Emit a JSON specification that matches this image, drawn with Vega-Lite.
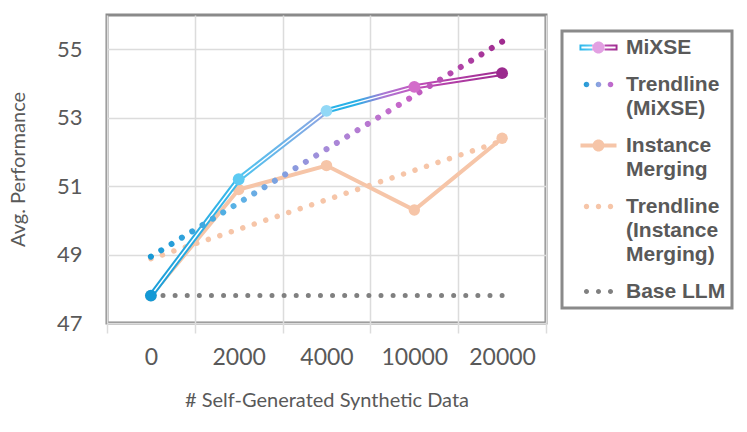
{
  "$schema": "https://vega.github.io/schema/vega-lite/v6.json",
  "width": 439,
  "height": 308,
  "autosize": "none",
  "padding": {"left": 107, "top": 15, "right": 201, "bottom": 109},
  "datasets": {
    "mixse": [
      {"n": "0", "score": 47.8},
      {"n": "2000", "score": 51.2},
      {"n": "4000", "score": 53.2},
      {"n": "10000", "score": 53.9},
      {"n": "20000", "score": 54.3}
    ],
    "merging": [
      {"n": "0", "score": 47.8},
      {"n": "2000", "score": 50.9},
      {"n": "4000", "score": 51.6},
      {"n": "10000", "score": 50.3},
      {"n": "20000", "score": 52.4}
    ],
    "trend_mixse": [
      {"n": "0", "score": 48.94},
      {"n": "20000", "score": 55.22}
    ],
    "trend_merging": [
      {"n": "0", "score": 48.88},
      {"n": "20000", "score": 52.32}
    ],
    "base": [
      {"n": "0", "score": 47.8},
      {"n": "20000", "score": 47.8}
    ]
  },
  "encoding": {
    "x": {
      "field": "n",
      "type": "nominal",
      "bandPosition": 0.5,
      "scale": {"type": "band", "domain": ["0", "2000", "4000", "10000", "20000"], "paddingInner": 0, "paddingOuter": 0},
      "axis": {
        "title": "# Self-Generated Synthetic Data",
        "tickBand": "extent",
        "grid": true,
        "gridColor": "#dcdcdc",
        "gridWidth": 1.5,
        "ticks": true,
        "tickColor": "#dcdcdc",
        "tickWidth": 1.5,
        "tickSize": 10,
        "domain": false,
        "labelAngle": 0,
        "labelFont": "Lato",
        "labelFontSize": 23,
        "labelColor": "#595959",
        "labelPadding": 13,
        "titleFont": "Lato",
        "titleFontSize": 20,
        "titleFontWeight": "normal",
        "titleColor": "#595959",
        "titlePadding": 21
      }
    },
    "y": {
      "field": "score",
      "type": "quantitative",
      "scale": {"domain": [47, 56], "nice": false, "zero": false},
      "axis": {
        "title": "Avg. Performance",
        "values": [47, 49, 51, 53, 55],
        "grid": true,
        "gridColor": "#dcdcdc",
        "gridWidth": 1.5,
        "ticks": false,
        "domain": false,
        "labelFont": "Lato",
        "labelFontSize": 22,
        "labelColor": "#595959",
        "labelPadding": 25,
        "titleFont": "Lato",
        "titleFontSize": 20,
        "titleFontWeight": "normal",
        "titleColor": "#595959",
        "titlePadding": 28
      }
    }
  },
  "layer": [
    {
      "data": {"name": "base"},
      "mark": {"type": "line", "color": "#808080", "strokeWidth": 5, "strokeDash": [0.01, 12.1], "strokeCap": "round"},
      "encoding": {"order": {"value": null}}
    },
    {
      "data": {"name": "trend_merging"},
      "mark": {"type": "line", "color": "#f6c5a8", "strokeWidth": 5.5, "strokeDash": [0.01, 12.1], "strokeCap": "round"},
      "encoding": {"order": {"value": null}}
    },
    {
      "data": {"name": "merging"},
      "mark": {"type": "line", "color": "#f6c5a8", "strokeWidth": 4},
      "encoding": {"order": {"value": null}}
    },
    {
      "data": {"name": "merging"},
      "mark": {"type": "point", "filled": true, "color": "#f6c5a8", "size": 130, "opacity": 1}
    },
    {
      "data": {"name": "mixse"},
      "transform": [{"filter": {"field": "n", "oneOf": ["0", "2000"]}}],
      "mark": {"type": "line", "strokeWidth": 5.5, "color": {"gradient": "linear", "x1": 0, "y1": 0, "x2": 1, "y2": 0, "stops": [{"offset": 0, "color": "#1a9dd8"}, {"offset": 1, "color": "#3bbbec"}]}},
      "encoding": {"order": {"value": null}}
    },
    {
      "data": {"name": "mixse"},
      "transform": [{"filter": {"field": "n", "oneOf": ["2000", "4000"]}}],
      "mark": {"type": "line", "strokeWidth": 5.5, "color": {"gradient": "linear", "x1": 0, "y1": 0, "x2": 1, "y2": 0, "stops": [{"offset": 0, "color": "#4cc3ef"}, {"offset": 1, "color": "#8ea4e2"}]}},
      "encoding": {"order": {"value": null}}
    },
    {
      "data": {"name": "mixse"},
      "transform": [{"filter": {"field": "n", "oneOf": ["4000", "10000"]}}],
      "mark": {"type": "line", "strokeWidth": 5.5, "color": {"gradient": "linear", "x1": 0, "y1": 0, "x2": 1, "y2": 0, "stops": [{"offset": 0, "color": "#29b3e8"}, {"offset": 0.35, "color": "#2ab0e6"}, {"offset": 0.65, "color": "#a978d5"}, {"offset": 1, "color": "#c455be"}]}},
      "encoding": {"order": {"value": null}}
    },
    {
      "data": {"name": "mixse"},
      "transform": [{"filter": {"field": "n", "oneOf": ["10000", "20000"]}}],
      "mark": {"type": "line", "strokeWidth": 5.5, "color": {"gradient": "linear", "x1": 0, "y1": 0, "x2": 1, "y2": 0, "stops": [{"offset": 0, "color": "#c04db8"}, {"offset": 1, "color": "#9e2a8f"}]}},
      "encoding": {"order": {"value": null}}
    },
    {
      "data": {"name": "mixse"},
      "mark": {"type": "line", "color": "white", "strokeWidth": 1.5},
      "encoding": {"order": {"value": null}}
    },
    {
      "data": {"name": "trend_mixse"},
      "mark": {"type": "line", "strokeWidth": 6, "strokeDash": [0.01, 12.1], "strokeCap": "round", "color": {"gradient": "linear", "x1": 0, "y1": 0, "x2": 1, "y2": 0, "stops": [{"offset": 0, "color": "#1798d5"}, {"offset": 0.25, "color": "#5cb3e6"}, {"offset": 0.5, "color": "#a68bd9"}, {"offset": 0.72, "color": "#c766c9"}, {"offset": 1, "color": "#9f2a8e"}]}},
      "encoding": {"order": {"value": null}}
    },
    {
      "data": {"name": "mixse"},
      "mark": {"type": "point", "filled": true, "size": 140, "opacity": 1},
      "encoding": {
        "fill": {
          "field": "n",
          "type": "nominal",
          "scale": {"domain": ["0", "2000", "4000", "10000", "20000"], "range": ["#1499d5", "#5ccaf2", "#92d8f6", "#d36dca", "#9b2a8e"]},
          "legend": null
        }
      }
    },
    {
      "data": {"name": "base"},
      "mark": {"type": "point", "filled": true, "opacity": 0},
      "encoding": {
        "color": {
          "datum": "Base LLM",
          "type": "nominal",
          "scale": {
            "domain": ["MiXSE", "Trendline (MiXSE)", "Instance Merging", "Trendline (Instance Merging)", "Base LLM"],
            "range": [
              {"expr": "{'gradient': 'linear', 'x1': 0, 'y1': 0, 'x2': 1, 'y2': 0, 'stops': [{'offset': 0, 'color': '#29b5ea'}, {'offset': 0.33, 'color': '#5ccbf2'}, {'offset': 0.335, 'color': '#e2a0e2'}, {'offset': 0.665, 'color': '#e2a0e2'}, {'offset': 0.67, 'color': '#b84aae'}, {'offset': 1, 'color': '#9e2a8e'}]}"},
              {"expr": "{'gradient': 'linear', 'x1': 0, 'y1': 0, 'x2': 1, 'y2': 0, 'stops': [{'offset': 0, 'color': '#1a9bd6'}, {'offset': 0.5, 'color': '#8fa3e0'}, {'offset': 1, 'color': '#c560c8'}]}"},
              "#f6c5a8",
              "#f6c5a8",
              "#808080"
            ]
          },
          "legend": {
            "title": null,
            "orient": "none",
            "legendX": 455,
            "legendY": 16,
            "direction": "vertical",
            "symbolSize": 144,
            "symbolOffset": 20,
            "symbolOpacity": 1,
            "symbolStrokeWidth": 0,
            "labelFont": "Liberation Sans",
            "labelFontSize": 21,
            "labelFontWeight": "bold",
            "labelColor": "#595959",
            "labelOffset": 17,
            "labelLimit": 300,
            "padding": 6,
            "rowPadding": 15,
            "strokeColor": "#8a8a8a",
            "labelExpr": "datum.value === 'Trendline (MiXSE)' ? ['Trendline', '(MiXSE)'] : datum.value === 'Instance Merging' ? ['Instance', 'Merging'] : datum.value === 'Trendline (Instance Merging)' ? ['Trendline', '(Instance', 'Merging)'] : datum.label",
            "encode": {
              "legend": {"update": {"strokeWidth": {"value": 3}}},
              "labels": {"update": {"lineHeight": {"value": 24}}}
            }
          }
        },
        "shape": {
          "datum": "Base LLM",
          "type": "nominal",
          "scale": {
            "domain": ["MiXSE", "Trendline (MiXSE)", "Instance Merging", "Trendline (Instance Merging)", "Base LLM"],
            "range": [
              "M-3.17,-0.5H3.17V0.5H-3.17Z M-2.85,-0.17V0.17H2.85V-0.17Z M-1,0A1,1 0 1 1 1,0A1,1 0 1 1 -1,0Z",
              "M-2.47,0A0.47,0.47 0 1 1 -1.53,0A0.47,0.47 0 1 1 -2.47,0Z M-0.47,0A0.47,0.47 0 1 1 0.47,0A0.47,0.47 0 1 1 -0.47,0Z M1.53,0A0.47,0.47 0 1 1 2.47,0A0.47,0.47 0 1 1 1.53,0Z",
              "M-3,-0.33H3V0.33H-3Z M-1,0A1,1 0 1 1 1,0A1,1 0 1 1 -1,0Z",
              "M-2.45,0A0.45,0.45 0 1 1 -1.55,0A0.45,0.45 0 1 1 -2.45,0Z M-0.45,0A0.45,0.45 0 1 1 0.45,0A0.45,0.45 0 1 1 -0.45,0Z M1.55,0A0.45,0.45 0 1 1 2.45,0A0.45,0.45 0 1 1 1.55,0Z",
              "M-2.42,0A0.42,0.42 0 1 1 -1.58,0A0.42,0.42 0 1 1 -2.42,0Z M-0.42,0A0.42,0.42 0 1 1 0.42,0A0.42,0.42 0 1 1 -0.42,0Z M1.58,0A0.42,0.42 0 1 1 2.42,0A0.42,0.42 0 1 1 1.58,0Z"
            ]
          }
        }
      }
    }
  ],
  "config": {
    "view": {"stroke": "#8a8a8a", "strokeWidth": 3}
  }
}
